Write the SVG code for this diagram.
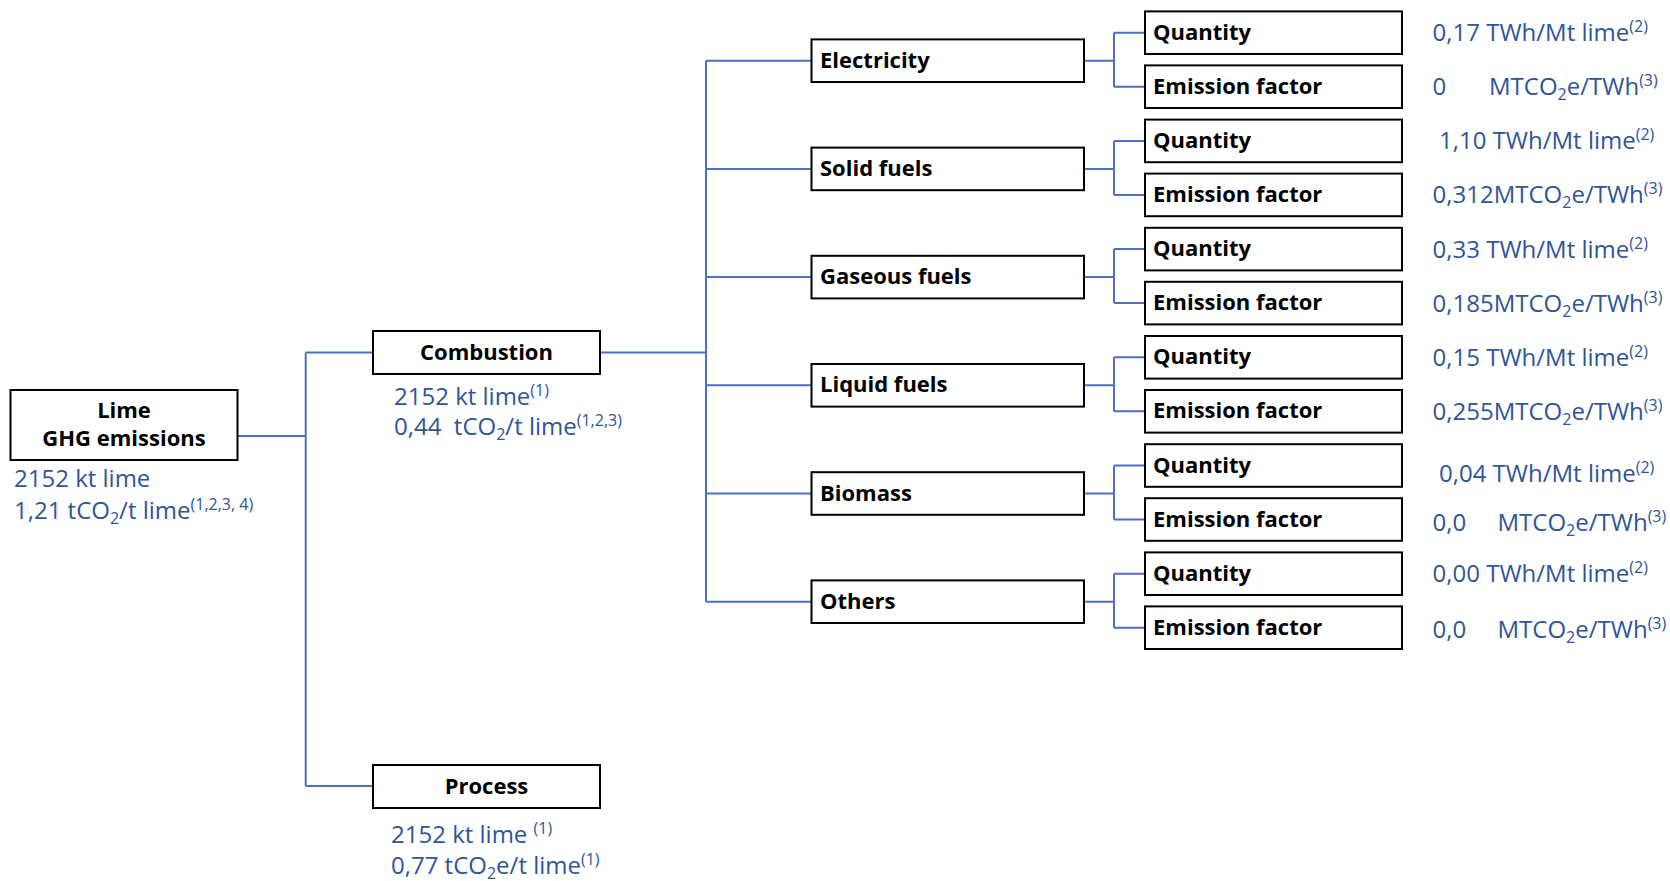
<svg xmlns="http://www.w3.org/2000/svg" width="1670" height="881" viewBox="0 0 1670 881">
<style>
.box{fill:#fff;stroke:#000;stroke-width:2}
.lbl{font-family:"Open Sans","Liberation Sans",sans-serif;font-weight:bold;font-size:22px;fill:#000}
.ctr{text-anchor:middle}
.val{font-family:"Open Sans","Liberation Sans",sans-serif;font-size:24px;fill:#2F5597}
.sup{font-size:16px}
.con{fill:none;stroke:#4F6FBF;stroke-width:2}
</style>
<rect width="1670" height="881" fill="#fff"/>
<g id="connectors" class="con">
<path d="M237.5,436 H305.7 M305.7,352.5 V786 M305.7,352.5 H372.8 M305.7,786 H372.8"/>
<path d="M600,352.5 H706 M706,60.7 V601.7 M706,60.7 H811.5 M706,168.9 H811.5 M706,277.1 H811.5 M706,385.3 H811.5 M706,493.5 H811.5 M706,601.7 H811.5"/>
<path d="M1084,60.7 H1114 M1114,32.7 V86.7 M1114,32.7 H1145 M1114,86.7 H1145"/>
<path d="M1084,168.9 H1114 M1114,140.9 V194.9 M1114,140.9 H1145 M1114,194.9 H1145"/>
<path d="M1084,277.1 H1114 M1114,249.1 V303.1 M1114,249.1 H1145 M1114,303.1 H1145"/>
<path d="M1084,385.3 H1114 M1114,357.3 V411.3 M1114,357.3 H1145 M1114,411.3 H1145"/>
<path d="M1084,493.5 H1114 M1114,465.5 V519.5 M1114,465.5 H1145 M1114,519.5 H1145"/>
<path d="M1084,601.7 H1114 M1114,573.7 V627.7 M1114,573.7 H1145 M1114,627.7 H1145"/>
</g>
<g id="lime">
<rect class="box" x="10.5" y="390" width="227" height="70"/>
<text class="lbl ctr" x="124" y="418">Lime</text>
<text class="lbl ctr" x="124" y="446">GHG emissions</text>
<text class="val" x="14" y="487">2152 kt lime</text>
<text class="val" x="14" y="519">1,21 tCO<tspan class="sup" dy="5">2</tspan><tspan dy="-5">/t lime</tspan><tspan class="sup" dy="-9">(1,2,3, 4)</tspan></text>
</g>
<g id="combustion">
<rect class="box" x="373" y="331" width="227" height="43"/>
<text class="lbl ctr" x="486.5" y="360">Combustion</text>
<text class="val" x="394" y="405">2152 kt lime<tspan class="sup" dy="-9">(1)</tspan></text>
<text class="val" x="394" y="435">0,44&#160; tCO<tspan class="sup" dy="5">2</tspan><tspan dy="-5">/t lime</tspan><tspan class="sup" dy="-9">(1,2,3)</tspan></text>
</g>
<g id="process">
<rect class="box" x="373" y="765" width="227" height="43"/>
<text class="lbl ctr" x="486.5" y="794">Process</text>
<text class="val" x="391" y="843">2152 kt lime <tspan class="sup" dy="-9">(1)</tspan></text>
<text class="val" x="391" y="874">0,77 tCO<tspan class="sup" dy="5">2</tspan><tspan dy="-5">e/t lime</tspan><tspan class="sup" dy="-9">(1)</tspan></text>
</g>
<g id="electricity">
<rect class="box" x="811.5" y="39.4" width="272.5" height="42.6"/>
<text class="lbl" x="820" y="67.7">Electricity</text>
</g>
<g id="solid-fuels">
<rect class="box" x="811.5" y="147.6" width="272.5" height="42.6"/>
<text class="lbl" x="820" y="175.9">Solid fuels</text>
</g>
<g id="gaseous-fuels">
<rect class="box" x="811.5" y="255.8" width="272.5" height="42.6"/>
<text class="lbl" x="820" y="284.1">Gaseous fuels</text>
</g>
<g id="liquid-fuels">
<rect class="box" x="811.5" y="364" width="272.5" height="42.6"/>
<text class="lbl" x="820" y="392.3">Liquid fuels</text>
</g>
<g id="biomass">
<rect class="box" x="811.5" y="472.2" width="272.5" height="42.6"/>
<text class="lbl" x="820" y="500.5">Biomass</text>
</g>
<g id="others">
<rect class="box" x="811.5" y="580.4" width="272.5" height="42.6"/>
<text class="lbl" x="820" y="608.7">Others</text>
</g>
<g id="electricity-quantity">
<rect class="box" x="1145" y="11.4" width="257" height="42.6"/>
<text class="lbl" x="1153" y="39.7">Quantity</text>
<text class="val" x="1432.6" y="40.5">0,17 TWh/Mt lime<tspan class="sup" dy="-9">(2)</tspan></text>
</g>
<g id="electricity-ef">
<rect class="box" x="1145" y="65.4" width="257" height="42.6"/>
<text class="lbl" x="1153" y="93.7">Emission factor</text>
<text class="val" x="1432.6" y="94.5">0<tspan x="1489">MTCO</tspan><tspan class="sup" dy="5">2</tspan><tspan dy="-5">e/TWh</tspan><tspan class="sup" dy="-9">(3)</tspan></text>
</g>
<g id="solid-quantity">
<rect class="box" x="1145" y="119.6" width="257" height="42.6"/>
<text class="lbl" x="1153" y="147.9">Quantity</text>
<text class="val" x="1439" y="148.7">1,10 TWh/Mt lime<tspan class="sup" dy="-9">(2)</tspan></text>
</g>
<g id="solid-ef">
<rect class="box" x="1145" y="173.6" width="257" height="42.6"/>
<text class="lbl" x="1153" y="201.9">Emission factor</text>
<text class="val" x="1432.6" y="202.7">0,312MTCO<tspan class="sup" dy="5">2</tspan><tspan dy="-5">e/TWh</tspan><tspan class="sup" dy="-9">(3)</tspan></text>
</g>
<g id="gaseous-quantity">
<rect class="box" x="1145" y="227.8" width="257" height="42.6"/>
<text class="lbl" x="1153" y="256.1">Quantity</text>
<text class="val" x="1432.6" y="257.5">0,33 TWh/Mt lime<tspan class="sup" dy="-9">(2)</tspan></text>
</g>
<g id="gaseous-ef">
<rect class="box" x="1145" y="281.8" width="257" height="42.6"/>
<text class="lbl" x="1153" y="310.1">Emission factor</text>
<text class="val" x="1432.6" y="311.5">0,185MTCO<tspan class="sup" dy="5">2</tspan><tspan dy="-5">e/TWh</tspan><tspan class="sup" dy="-9">(3)</tspan></text>
</g>
<g id="liquid-quantity">
<rect class="box" x="1145" y="336" width="257" height="42.6"/>
<text class="lbl" x="1153" y="364.3">Quantity</text>
<text class="val" x="1432.6" y="365.7">0,15 TWh/Mt lime<tspan class="sup" dy="-9">(2)</tspan></text>
</g>
<g id="liquid-ef">
<rect class="box" x="1145" y="390" width="257" height="42.6"/>
<text class="lbl" x="1153" y="418.3">Emission factor</text>
<text class="val" x="1432.6" y="419.7">0,255MTCO<tspan class="sup" dy="5">2</tspan><tspan dy="-5">e/TWh</tspan><tspan class="sup" dy="-9">(3)</tspan></text>
</g>
<g id="biomass-quantity">
<rect class="box" x="1145" y="444.2" width="257" height="42.6"/>
<text class="lbl" x="1153" y="472.5">Quantity</text>
<text class="val" x="1439" y="482">0,04 TWh/Mt lime<tspan class="sup" dy="-9">(2)</tspan></text>
</g>
<g id="biomass-ef">
<rect class="box" x="1145" y="498.2" width="257" height="42.6"/>
<text class="lbl" x="1153" y="526.5">Emission factor</text>
<text class="val" x="1432.6" y="531">0,0<tspan x="1497.5">MTCO</tspan><tspan class="sup" dy="5">2</tspan><tspan dy="-5">e/TWh</tspan><tspan class="sup" dy="-9">(3)</tspan></text>
</g>
<g id="others-quantity">
<rect class="box" x="1145" y="552.4" width="257" height="42.6"/>
<text class="lbl" x="1153" y="580.7">Quantity</text>
<text class="val" x="1432.6" y="581.5">0,00 TWh/Mt lime<tspan class="sup" dy="-9">(2)</tspan></text>
</g>
<g id="others-ef">
<rect class="box" x="1145" y="606.4" width="257" height="42.6"/>
<text class="lbl" x="1153" y="634.7">Emission factor</text>
<text class="val" x="1432.6" y="638">0,0<tspan x="1497.5">MTCO</tspan><tspan class="sup" dy="5">2</tspan><tspan dy="-5">e/TWh</tspan><tspan class="sup" dy="-9">(3)</tspan></text>
</g>
</svg>
